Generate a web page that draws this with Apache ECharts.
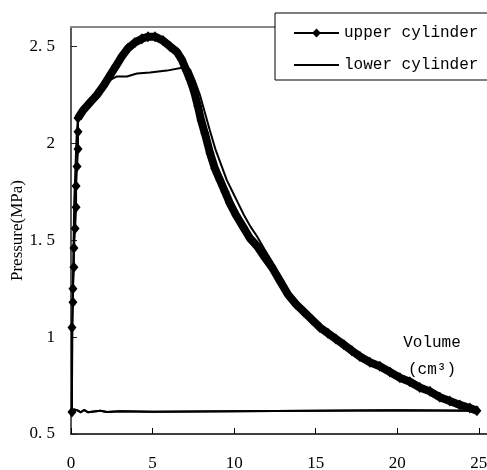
<!DOCTYPE html>
<html>
<head>
<meta charset="utf-8">
<script src="https://cdn.jsdelivr.net/npm/echarts@6/dist/echarts.min.js"></script>
<style>
html, body { margin: 0; padding: 0; background: #fff; }
#chart { width: 487px; height: 470px; }
</style>
</head>
<body>
<div id="chart"></div>
<script>
// volume (cm3), pressure (MPa)
var upperRise = [[0.06,0.614],[0.06,1.05],[0.12,1.18],[0.12,1.25],[0.18,1.36],[0.18,1.46],[0.25,1.56],[0.31,1.67],[0.31,1.78],[0.37,1.88],[0.43,1.97],[0.43,2.06]];
var upperExp = [[0.43,2.13],[0.74,2.17],[1.16,2.21],[1.59,2.25],[2.02,2.30],[2.39,2.35],[2.76,2.40],[3.13,2.45],[3.49,2.49],[3.92,2.52],[4.35,2.54],[4.72,2.55],[5.15,2.55],[5.64,2.53],[6.07,2.50],[6.50,2.47],[6.80,2.43],[7.05,2.38],[7.29,2.33],[7.54,2.27],[7.78,2.19],[7.97,2.12],[8.21,2.05],[8.52,1.95],[8.82,1.87],[9.13,1.81],[9.44,1.75],[9.74,1.69],[10.11,1.63],[10.54,1.57],[10.97,1.51],[11.40,1.47],[11.89,1.41],[12.32,1.36],[12.81,1.29],[13.30,1.22],[13.79,1.17],[14.28,1.13],[14.77,1.09],[15.26,1.05],[15.75,1.02],[16.24,0.99],[16.73,0.96],[17.22,0.93],[17.71,0.90],[18.32,0.87],[18.93,0.85],[19.55,0.82],[20.16,0.79],[20.77,0.77],[21.38,0.74],[22.00,0.72],[22.61,0.69],[23.22,0.67],[23.84,0.65],[24.45,0.634],[24.88,0.62]];
var lowerRise = [[0.05,0.62],[0.1,1.2],[0.2,1.7],[0.35,2.05],[0.43,2.13]];
var lowerExp = [[0.74,2.17],[1.16,2.21],[1.59,2.25],[2.02,2.29],[2.35,2.325],[2.82,2.345],[3.43,2.345],[4.04,2.36],[4.84,2.365],[5.88,2.375],[6.8,2.39],[7.1,2.39],[7.3,2.38],[7.6,2.32],[7.9,2.25],[8.2,2.16],[8.5,2.07],[8.85,1.97],[9.2,1.89],[9.55,1.81],[9.9,1.75],[10.25,1.69],[10.6,1.63],[11.0,1.57],[11.4,1.52],[11.85,1.455],[12.32,1.39],[12.81,1.31],[13.79,1.18],[14.77,1.095],[16.24,0.995],[17.71,0.905],[19.55,0.82],[21.38,0.742],[23.22,0.672],[24.88,0.62]];
var returnLine = [[24.88,0.62],[20,0.622],[15,0.62],[10,0.617],[5,0.615],[3,0.617],[2.2,0.613],[1.8,0.62],[1.4,0.616],[1.05,0.612],[0.8,0.624],[0.6,0.612],[0.4,0.622],[0.2,0.626],[0.05,0.62]];
var xTicks = [0, 5, 10, 15, 20, 25];
var yTicks = [0.5, 1, 1.5, 2, 2.5];

var myChart = echarts.init(document.getElementById('chart'));

var upperData = upperRise.concat(upperExp).concat(returnLine.map(function (p) {
  return { value: p, symbol: 'none' };
}));
var lowerData = lowerRise.concat(lowerExp).concat(returnLine);

var option = {
  animation: false,
  backgroundColor: '#fff',
  grid: { left: 71, right: 0, top: 27, bottom: 36, containLabel: false, outerBoundsMode: 'none' },
  legend: {
    data: ['upper cylinder', { name: 'lower cylinder', itemStyle: { opacity: 0 } }],
    orient: 'vertical',
    left: 275,
    top: 13,
    padding: [12, 12, 7, 18],
    itemGap: 16,
    itemWidth: 45,
    itemHeight: 11,
    backgroundColor: '#fff',
    borderColor: '#000',
    borderWidth: 1,
    borderRadius: 0,
    textStyle: { fontFamily: 'Liberation Mono', fontSize: 16, color: '#000' }
  },
  xAxis: [
    {
      type: 'value',
      min: 0,
      max: 25.5,
      position: 'bottom',
      axisLine: { onZero: false, lineStyle: { color: '#000', width: 1.5 } },
      axisTick: { inside: true, length: 6, customValues: xTicks, lineStyle: { color: '#000' } },
      axisLabel: { customValues: xTicks, margin: 21, fontFamily: 'Liberation Serif', fontSize: 17, color: '#000' },
      splitLine: { show: false }
    },
    {
      type: 'value',
      min: 0,
      max: 25.5,
      position: 'top',
      axisLine: { show: true, onZero: false, lineStyle: { color: '#888', width: 2 } },
      axisTick: { show: false },
      axisLabel: { show: false },
      splitLine: { show: false }
    }
  ],
  yAxis: {
    type: 'value',
    min: 0.5,
    max: 2.6,
    name: 'Pressure(MPa)',
    nameLocation: 'middle',
    nameGap: 45,
    nameMoveOverlap: false,
    nameTextStyle: { fontFamily: 'Liberation Serif', fontSize: 17, color: '#000' },
    axisLine: { show: true, onZero: false, lineStyle: { color: '#222', width: 1.5 } },
    axisTick: { show: true, inside: true, length: 6, customValues: yTicks, lineStyle: { color: '#222' } },
    axisLabel: {
      customValues: yTicks,
      margin: 16,
      fontFamily: 'Liberation Serif',
      fontSize: 17,
      color: '#000',
      formatter: function (v) { return String(v).replace('.', '. '); }
    },
    splitLine: { show: false }
  },
  graphic: [
    {
      type: 'text', x: 432, y: 343,
      style: { text: 'Volume', font: '16px "Liberation Mono"', fill: '#000', align: 'center', verticalAlign: 'middle' }
    },
    {
      type: 'text', x: 432, y: 370,
      style: { text: '(cm³)', font: '16px "Liberation Mono"', fill: '#000', align: 'center', verticalAlign: 'middle' }
    }
  ],
  series: [
    {
      name: 'band',
      type: 'line',
      data: upperExp,
      symbol: 'none',
      silent: true,
      lineStyle: { color: '#000', width: 8 },
      z: 2
    },
    {
      name: 'upper cylinder',
      type: 'line',
      data: upperData,
      symbol: 'diamond',
      symbolSize: [9, 11],
      showAllSymbol: true,
      itemStyle: { color: '#000' },
      lineStyle: { color: '#000', width: 2 },
      z: 3
    },
    {
      name: 'lower cylinder',
      type: 'line',
      data: lowerData,
      symbol: 'none',
      itemStyle: { color: '#000' },
      lineStyle: { color: '#000', width: 2 },
      z: 4
    }
  ]
};

myChart.setOption(option);
</script>
</body>
</html>
